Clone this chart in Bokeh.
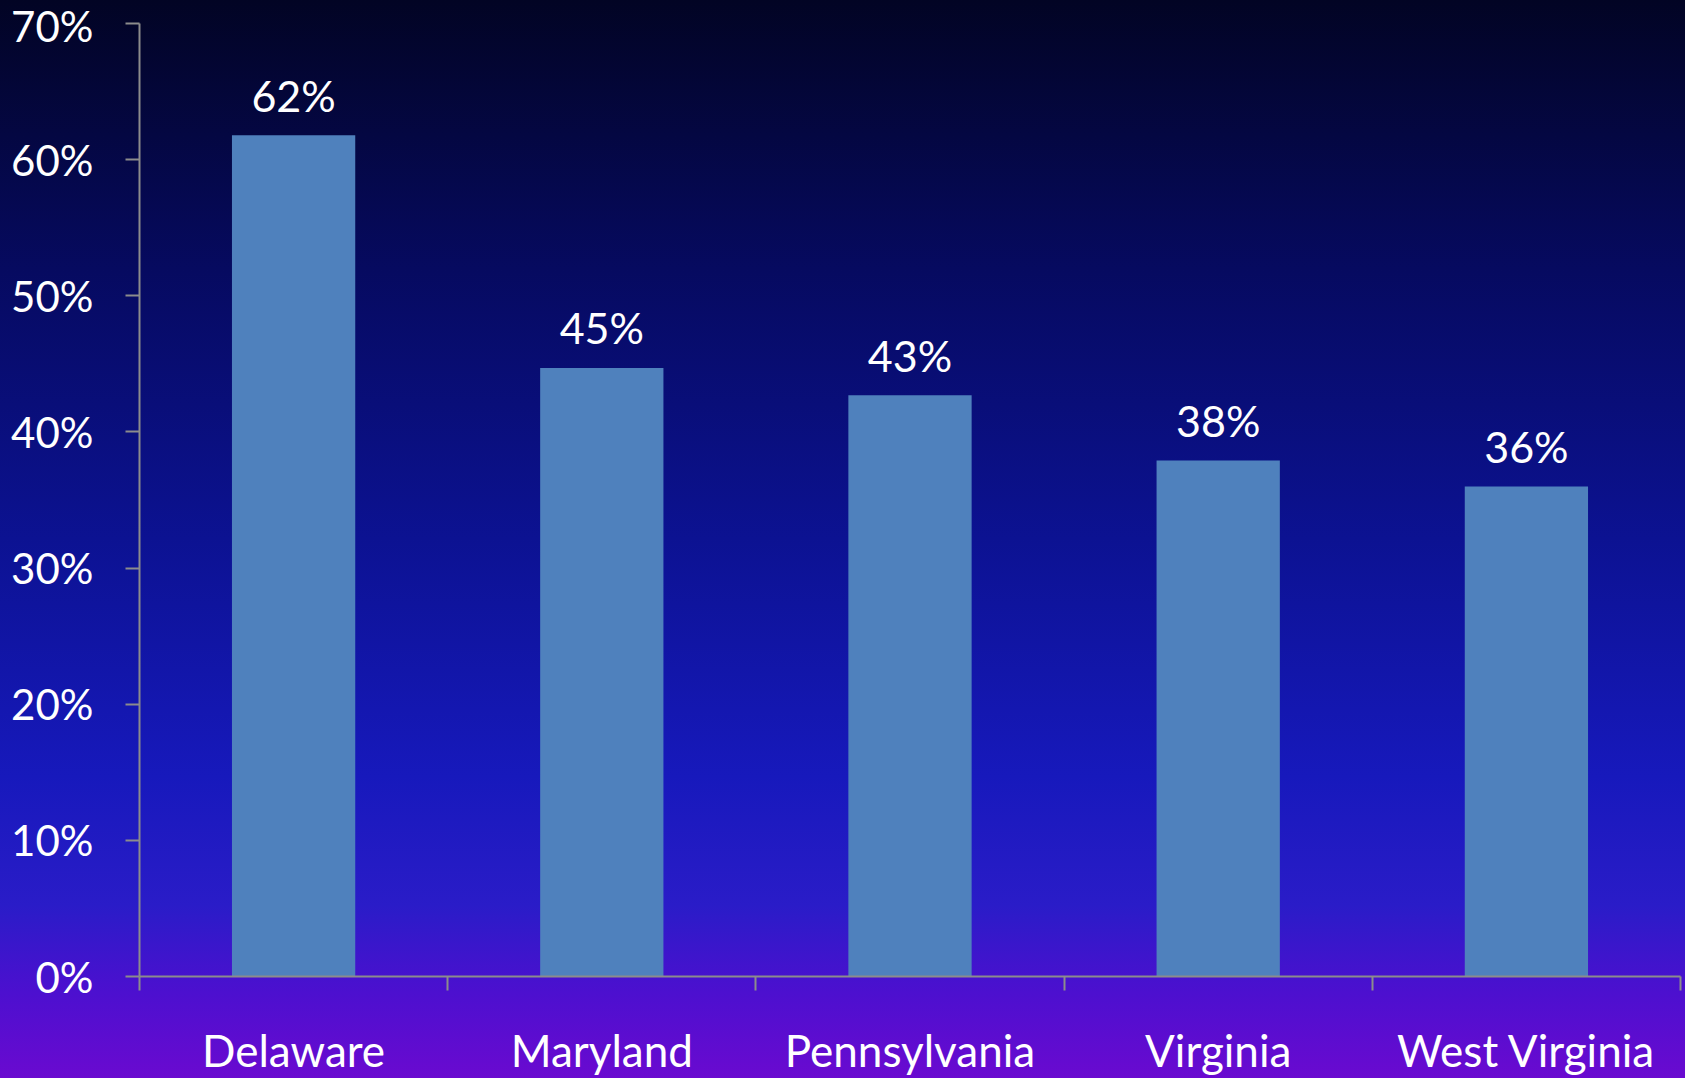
from bokeh.plotting import figure
from bokeh.models import ColumnDataSource, Range1d, FixedTicker, PrintfTickFormatter
from bokeh.embed import file_html
from bokeh.resources import INLINE
from bokeh.core.properties import value

categories = ["Delaware", "Maryland", "Pennsylvania", "Virginia", "West Virginia"]
values = [61.8, 44.7, 42.7, 37.9, 36.0]
value_labels = [f"{round(v)}%" for v in values]
y_ticks = [0, 10, 20, 30, 40, 50, 60, 70]

FONT = "Lato"
xs = list(range(len(categories)))
src = ColumnDataSource(dict(x=xs, top=values, label=value_labels))

p = figure(width=1685, height=1078, output_backend="svg", toolbar_location=None,
           x_range=Range1d(-0.5, len(categories) - 0.5), y_range=Range1d(0, 70),
           min_border_left=139, min_border_right=5, min_border_top=23, min_border_bottom=40)
p.styles = {"margin": "0px", "background": "linear-gradient(to bottom, #020424 0%, #060a60 25%, #0c1292 50%, #1719bc 72%, #2a1cc8 84%, #4c10cf 92%, #6a0ad0 100%)"}
p.background_fill_alpha = 0
p.border_fill_alpha = 0
p.outline_line_color = None
p.grid.visible = False

p.vbar(x="x", top="top", bottom=0, width=0.4, source=src, fill_color="#4F81BD", line_color=None)
p.text(x="x", y="top", text="label", source=src, y_offset=-40, text_align="center",
       text_baseline="middle", text_color="white", text_font=value(FONT), text_font_size="43px")

ax = p.xaxis[0]
ax.ticker = FixedTicker(ticks=xs, minor_ticks=[i - 0.5 for i in range(len(categories) + 1)])
ax.major_label_overrides = {i: c for i, c in enumerate(categories)}
ax.major_tick_out = 0
ax.major_tick_in = 0
ax.minor_tick_out = 14
ax.minor_tick_in = 0
ax.minor_tick_line_color = "#8c8c8c"
ax.minor_tick_line_width = 2
ax.axis_line_color = "#8c8c8c"
ax.axis_line_width = 2
ax.major_label_text_color = "white"
ax.major_label_text_font = FONT
ax.major_label_text_font_size = "44px"
ax.major_label_standoff = 33

ay = p.yaxis[0]
ay.ticker = FixedTicker(ticks=y_ticks, minor_ticks=[])
ay.formatter = PrintfTickFormatter(format="%d%%")
ay.major_tick_out = 14
ay.major_tick_in = 0
ay.major_tick_line_color = "#8c8c8c"
ay.major_tick_line_width = 2
ay.axis_line_color = "#8c8c8c"
ay.axis_line_width = 2
ay.major_label_text_color = "white"
ay.major_label_text_font = FONT
ay.major_label_text_font_size = "42px"
ay.major_label_standoff = 32

open("out.html", "w").write(file_html(p, INLINE))
